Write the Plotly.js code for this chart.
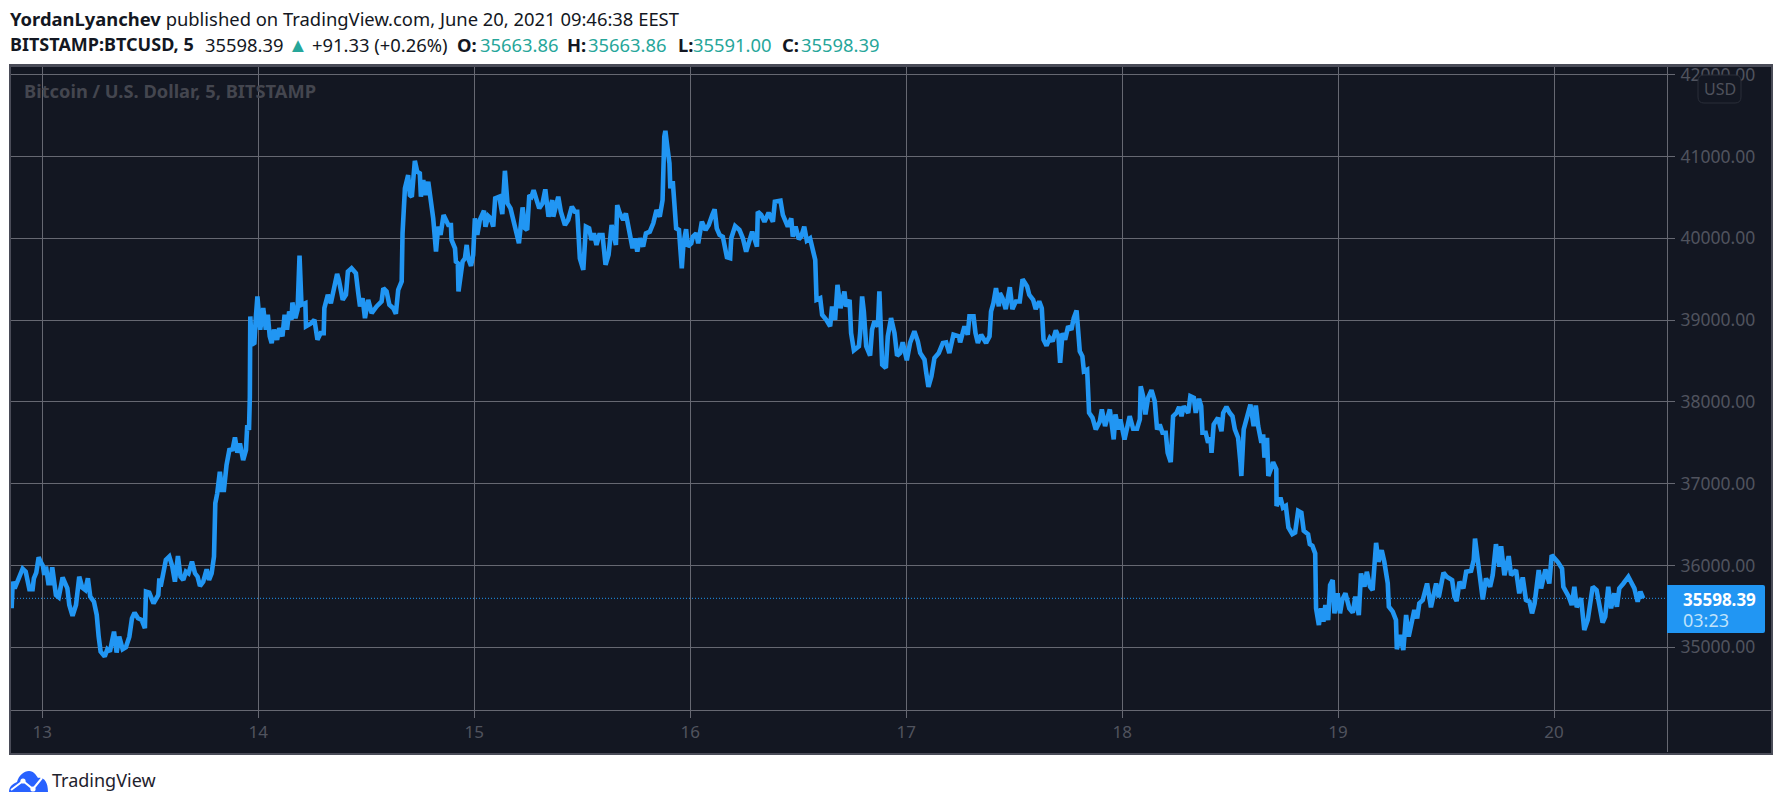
<!DOCTYPE html>
<html>
<head>
<meta charset="utf-8">
<script src="https://cdn.plot.ly/plotly-3.0.1.min.js"></script>
<style>
html,body{margin:0;padding:0;background:#fff;width:1783px;height:808px;overflow:hidden}
#frame{position:absolute;left:9px;top:64px;width:1760px;height:686px;background:#131722;border:2px solid #4a4c58;border-top-width:3px}
#hline{position:absolute;left:11px;top:710px;width:1760px;height:1px;background:#666872}
#vline{position:absolute;left:1667px;top:67px;width:1px;height:685px;background:#666872}
#logo{position:absolute;left:9px;top:769px}
#chart{position:absolute;left:0;top:0;width:1783px;height:808px}
</style>
</head>
<body>
<div id="frame"></div><div id="hline"></div><div id="vline"></div>
<svg id="logo" width="40" height="24" viewBox="0 0 40 24"><path d="M0 23 C0 17 4 15 8 13 C10 6 15 2 20 2 C25 2 27 6 29 9 C35 8 39 13 39 23 Z" fill="#2962ff"/><path d="M2 21 L14 12 L24 20 L33 9" fill="none" stroke="#fff" stroke-width="2"/><circle cx="14" cy="12" r="2.6" fill="#fff"/><circle cx="24" cy="20" r="2.6" fill="#fff"/></svg>
<div id="chart"></div>
<script>
// Bitstamp BTCUSD 5-minute close, time in June-2021 day fractions
var t1=[12.858,12.863,12.872,12.881,12.889,12.900,12.909,12.923,12.931,12.940,12.955,12.961,12.972,12.983,12.992,13.003,13.009,13.017,13.028,13.037,13.046,13.054,13.063,13.076,13.086,13.094,13.106,13.116,13.125,13.140,13.156,13.171,13.185,13.199,13.211,13.222,13.239,13.252,13.261,13.270,13.289,13.301,13.313,13.332,13.344,13.356,13.372,13.387,13.403,13.415,13.427,13.443,13.460,13.475,13.480,13.495,13.515,13.537,13.542,13.548,13.560,13.572,13.588,13.602,13.614,13.628,13.640,13.653,13.665,13.677,13.693,13.707,13.719,13.730,13.745,13.761,13.772,13.784,13.795,13.801,13.810,13.822,13.832,13.841,13.853,13.866,13.881,13.892,13.903,13.915,13.930,13.943,13.949,13.957,13.961];
var p1=[35477,35802,35721,35782,35863,35925,35961,35925,35843,35709,35709,35843,35912,36100,36047,35994,35884,35986,35782,35782,35978,35823,35639,35611,35782,35855,35782,35721,35517,35383,35517,35863,35729,35701,35843,35619,35558,35395,35130,34947,34886,34976,34947,35191,34935,35130,34976,35000,35130,35354,35424,35354,35334,35232,35680,35668,35538,35639,35843,35741,35904,36067,36108,35986,35802,36116,35863,35823,35925,35904,36047,35904,35863,35749,35802,35953,35823,35904,36108,36760,36882,37146,36922,36922,37228,37411,37419,37566,37379,37493,37289,37411,37717,37656,38063];
var t2=[13.963,13.970,13.982,13.988,13.996,14.009,14.023,14.035,14.044,14.053,14.062,14.073,14.087,14.097,14.112,14.122,14.133,14.143,14.154,14.158,14.172,14.182,14.191,14.200,14.218,14.221,14.242,14.260,14.274,14.289,14.303,14.306,14.322,14.336,14.349,14.365,14.373];
var p2=[39045,38699,38720,39004,39289,38882,39146,38882,39065,38801,38720,38882,38760,38902,38801,39065,38882,39106,39004,39215,39024,39126,39789,39187,39207,38923,38955,39004,38760,38841,38841,39146,39309,39207,39390,39565,39492];
var t3=[14.391,14.406,14.415,14.432,14.452,14.463,14.471,14.483,14.494,14.509,14.525,14.548,14.571,14.579,14.594,14.607,14.625,14.637,14.648,14.664,14.668,14.679,14.694,14.702,14.711,14.725,14.736,14.748,14.753,14.764,14.776,14.787,14.798,14.810,14.823,14.833,14.844,14.858,14.880,14.892,14.895,14.911,14.915,14.924,14.927,14.937,14.946,14.957,14.965,14.972,14.985,14.995,15.003,15.014,15.026,15.045,15.052,15.065,15.076,15.088,15.097,15.116,15.130,15.142,15.154,15.168,15.181,15.196,15.207,15.224,15.235,15.245,15.255,15.265,15.275,15.289,15.301,15.316,15.329,15.344,15.361,15.366,15.389,15.401,15.420,15.435,15.443,15.452,15.466,15.477,15.489,15.505,15.517,15.532,15.543,15.554,15.566,15.579,15.594,15.608,15.622,15.636,15.656,15.662,15.674,15.690,15.702,15.717,15.733,15.744,15.755,15.767,15.782,15.795,15.813,15.829,15.844,15.859,15.872,15.880,15.885,15.894,15.904,15.908];
var p3=[39248,39309,39593,39634,39573,39329,39167,39268,39024,39248,39085,39167,39228,39390,39350,39187,39146,39077,39370,39472,40061,40610,40772,40528,40508,40947,40813,40793,40508,40711,40528,40691,40508,40244,39837,40142,40041,40285,40163,40163,39980,39878,39715,39695,39350,39573,39715,39756,39919,39756,39663,39797,40244,40041,40224,40337,40142,40272,40244,40142,40488,40508,40297,40825,40427,40366,40224,40102,39939,40378,40122,40102,40528,40508,40589,40467,40366,40427,40598,40264,40467,40264,40508,40325,40163,40224,40325,40386,40325,40325,39756,39614,40142,40122,39980,40061,39919,40041,40041,39675,39797,40163,39919,40406,40305,40224,40305,40102,39878,40000,39837,40000,39898,40061,40081,40183,40346,40264,40467,41240,41313,41118,40915,40610];
var t4=[15.912,15.920,15.927,15.935,15.948,15.954,15.961,15.969,15.981,15.989,16.005,16.012,16.028,16.037,16.054,16.071,16.086,16.102,16.113,16.123,16.136,16.151,16.170,16.185,16.190,16.208,16.228,16.244,16.259,16.287,16.298,16.309,16.313,16.329,16.344,16.363,16.383,16.392,16.418,16.429,16.452,16.468,16.475,16.488,16.503,16.514,16.528,16.540,16.555,16.571,16.579,16.585,16.602,16.611,16.630,16.648,16.657,16.671,16.682,16.696,16.714,16.722,16.738,16.745,16.758,16.781,16.787,16.796,16.804,16.815,16.833,16.842,16.853,16.869,16.876,16.889,16.906,16.915,16.930,16.946,16.958,16.972,16.984,17.003,17.018,17.038,17.054,17.065,17.085,17.092,17.103,17.117,17.131,17.151,17.170,17.185,17.200,17.219,17.244,17.250,17.270,17.285,17.293,17.312,17.321,17.332,17.347,17.370,17.386,17.393,17.404,17.416,17.429];
var p4=[40671,40671,40467,40122,40102,39858,39634,39939,40110,39898,39939,40020,40061,39939,40203,40102,40163,40285,40354,40122,40041,40020,39768,39756,40000,40150,40102,40000,39837,40081,39980,39898,40325,40285,40203,40313,40203,40447,40459,40285,40142,40244,40020,40142,39988,40020,40142,39972,40000,39817,39736,39248,39268,39065,39004,38923,39167,39004,39431,39146,39350,39167,39248,38841,38630,38679,38841,39289,39106,38679,38565,38882,38984,38923,39350,38455,38415,38801,39024,38841,38565,38598,38728,38508,38720,38862,38740,38598,38516,38374,38183,38313,38537,38598,38720,38728,38598,38821,38801,38728,38923,38821,39045,39045,38841,38720,38821,38720,38801,39106,39207,39390,39167];
var t5=[17.434,17.446,17.461,17.480,17.492,17.508,17.526,17.539,17.560,17.570,17.588,17.600,17.616,17.628,17.636,17.650,17.665,17.678,17.693,17.705,17.713,17.724,17.736,17.750,17.765,17.776,17.789,17.798,17.804,17.816,17.823,17.838,17.847,17.863,17.878,17.897,17.906,17.921,17.943,17.961,17.969,17.983,17.992,18.011,18.028,18.035,18.051,18.069,18.082,18.086,18.097,18.108,18.120,18.136,18.151,18.162,18.174,18.187,18.202,18.211,18.225,18.236,18.252,18.264,18.275,18.285,18.306,18.316,18.332,18.341,18.356,18.366,18.372,18.387,18.398,18.409,18.414,18.424,18.444,18.460,18.468,18.483,18.498,18.511,18.522,18.537,18.548,18.552,18.563,18.583,18.594,18.609,18.619,18.630,18.645,18.653,18.659,18.671,18.677,18.691,18.699,18.714,18.715,18.733,18.745,18.758,18.770,18.788,18.801,18.815,18.830,18.841,18.861,18.869,18.881];
var p5=[39329,39268,39134,39402,39134,39228,39228,39500,39411,39309,39248,39134,39228,39146,38760,38687,38780,38740,38874,38801,38476,38841,38760,38923,38882,39024,39118,38841,38618,38557,38374,38394,37866,37805,37663,37764,37907,37703,37907,37541,37846,37663,37785,37541,37724,37825,37671,37671,37785,38191,38069,37846,38049,38142,38008,37663,37724,37622,37622,37378,37264,37825,37866,37939,37825,37947,37866,38069,38049,37866,38037,37947,37622,37622,37500,37561,37378,37724,37805,37642,37866,37939,37866,37825,37663,37561,37256,37094,37663,37886,37967,37703,37955,37703,37500,37602,37317,37561,37094,37195,37264,37175,36728,36829,36707,36728,36463,36382,36402,36667,36646,36423,36382,36260,36240];
var t6=[18.894,18.895,18.898,18.911,18.921,18.932,18.941,18.954,18.963,18.975,18.983,18.998,19.009,19.019,19.034,19.052,19.068,19.080,19.096,19.106,19.122,19.133,19.148,19.160,19.176,19.187,19.202,19.214,19.230,19.235,19.253,19.268,19.272,19.287,19.302,19.315,19.327,19.353,19.366,19.376,19.392,19.412,19.430,19.454,19.466,19.488,19.503,19.528,19.539,19.549,19.562,19.580,19.593,19.616,19.628,19.634,19.647,19.657,19.670,19.685,19.704,19.716,19.731,19.747,19.755,19.770,19.790,19.801,19.824,19.839,19.855,19.870,19.886,19.898,19.910,19.929,19.940,19.960,19.978,19.989,20.017,20.037,20.043,20.068,20.082,20.094,20.105,20.125,20.140,20.156,20.179,20.197,20.210,20.225,20.237,20.251,20.264,20.279,20.291,20.302,20.321,20.344,20.356,20.372,20.387,20.400,20.413];
var p6=[36146,35740,35476,35272,35476,35313,35516,35333,35760,35821,35415,35659,35415,35577,35659,35476,35423,35618,35394,35902,35740,35923,35740,35699,36276,36045,36187,36045,35780,35496,35435,35333,34976,35150,34967,35394,35130,35455,35354,35537,35577,35780,35488,35780,35610,35911,35862,35821,35618,35565,35801,35720,35923,35935,36065,36329,36065,35780,35585,35841,35740,35882,36260,35984,36236,35882,36114,35882,35943,35659,35854,35577,35557,35415,35537,35943,35720,35951,35780,36126,36045,35963,35740,35618,35516,35740,35488,35598,35211,35333,35740,35699,35537,35301,35374,35740,35476,35659,35496,35720,35780,35862,35801,35720,35557,35679,35598];

var times=[].concat(t1,t2,t3,t4,t5,t6);
var prices=[].concat(p1,p2,p3,p4,p5,p6);
var lastPrice=35598.39;
var priceTicks=[35000,36000,37000,38000,39000,40000,41000,42000];
var priceLabels=["35000.00","36000.00","37000.00","38000.00","39000.00","40000.00","41000.00","42000.00"];
var dayTicks=[13,14,15,16,17,18,19,20];
var dayLabels=["13","14","15","16","17","18","19","20"];
var xRange=[12.855,20.523];
var yRange=[34233,42094];

var W=1783,H=808,L=11,R=1667,T=67,B=710;
function px(x){return (x-L)/(R-L);}
function py(y){return 1-(y-T)/(B-T);}
var NOTO='"Noto Sans", sans-serif';
function note(text,x,y,size,color,anchor){
  return {text:text,xref:'paper',yref:'paper',x:px(x),y:py(y),xanchor:anchor||'left',yanchor:'middle',
    showarrow:false,align:'left',borderpad:0,font:{family:NOTO,size:size,color:color}};
}
var ink='#131722',teal='#26a69a';
var HS=18.4;
var annotations=[
  note('<b>YordanLyanchev</b> published on TradingView.com, June 20, 2021 09:46:38 EEST',9,18,HS,ink),
  note('<b>BITSTAMP:BTCUSD, 5</b>',9,44,18,ink),
  note('35598.39',204,44,HS,ink),
  note('▲',298,44,20,teal,'center'),
  note('+91.33 (+0.26%)',311,44,HS,ink),
  note('<b>O:</b>',456,44,HS,ink),
  note('35663.86',479,44,HS,teal),
  note('<b>H:</b>',566,44,HS,ink),
  note('35663.86',587,44,HS,teal),
  note('<b>L:</b>',677,44,HS,ink),
  note('35591.00',692,44,HS,teal),
  note('<b>C:</b>',781,44,HS,ink),
  note('35598.39',800,44,HS,teal),
  note('<b>Bitcoin / U.S. Dollar, 5, BITSTAMP</b>',23,90,18.3,'#44464f'),
  note('USD',1719.5,89,16,'#4f525c','center'),
  note('<b>35598.39</b>',1682,599,17,'#ffffff'),
  note('03:23',1682,620,18,'#bfe2fb'),
  note('TradingView',51,780,18,'#1e222d')
];
function roundRect(x0,y0,x1,y1,rl,rr){
  var a=[];
  a.push('M',px(x0+rl),py(y0),'L',px(x1-rr),py(y0),'Q',px(x1),py(y0),px(x1),py(y0+rr),
         'L',px(x1),py(y1-rr),'Q',px(x1),py(y1),px(x1-rr),py(y1),
         'L',px(x0+rl),py(y1),'Q',px(x0),py(y1),px(x0),py(y1-rl),
         'L',px(x0),py(y0+rl),'Q',px(x0),py(y0),px(x0+rl),py(y0),'Z');
  return a.join(' ');
}
var shapes=[
  {type:'path',xref:'paper',yref:'paper',path:roundRect(1698,75,1741,103,6,6),fillcolor:'#131722',line:{color:'#2a2e39',width:1},layer:'above'},
  {type:'path',xref:'paper',yref:'paper',path:roundRect(1667,585,1765,633,0,2),fillcolor:'#2196f3',line:{width:0},layer:'above'}
];
var traces=[
  {x:xRange,y:[lastPrice,lastPrice],mode:'lines',line:{color:'#2196f3',width:1,dash:'1px,2px'},hoverinfo:'skip',showlegend:false},
  {x:times,y:prices,mode:'lines',line:{color:'#2196f3',width:4.6,shape:'linear'},hoverinfo:'skip',showlegend:false}
];
var gridColor='#666872',labelColor='#50535e';
var layout={
  width:W,height:H,margin:{l:L,r:W-R,t:T,b:H-B,pad:0},
  paper_bgcolor:'rgba(0,0,0,0)',plot_bgcolor:'rgba(0,0,0,0)',
  showlegend:false,
  xaxis:{range:xRange,tickmode:'array',tickvals:dayTicks,ticktext:dayLabels,showgrid:true,gridcolor:gridColor,gridwidth:1,
    zeroline:false,showline:false,ticks:'outside',ticklen:7,tickcolor:gridColor,tickwidth:1,
    tickfont:{family:NOTO,size:17,color:labelColor}},
  yaxis:{range:yRange,side:'right',tickmode:'array',tickvals:priceTicks,ticktext:priceLabels,showgrid:true,gridcolor:gridColor,gridwidth:1,
    zeroline:false,showline:false,ticks:'outside',ticklen:7,tickcolor:gridColor,tickwidth:1,ticklabelstandoff:2,
    tickfont:{family:NOTO,size:17.5,color:labelColor}},
  annotations:annotations,shapes:shapes
};
Plotly.newPlot('chart',traces,layout,{displayModeBar:false,staticPlot:true});
</script>
</body>
</html>
